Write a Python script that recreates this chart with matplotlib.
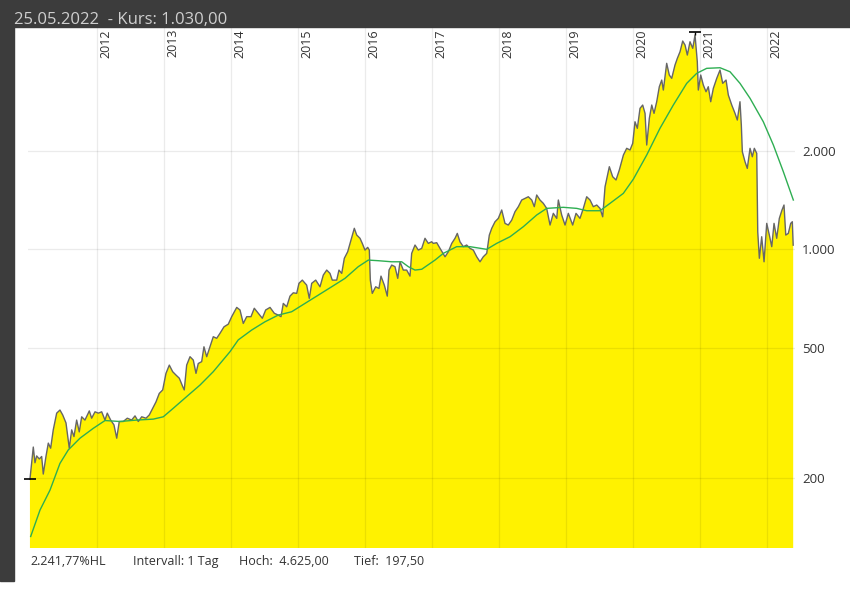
import matplotlib
matplotlib.use('Agg')
import matplotlib.pyplot as plt
import matplotlib.transforms as mtransforms
from matplotlib.patches import Rectangle

plt.rcParams['font.family'] = ['Open Sans', 'DejaVu Sans']

# Tagesschlusskurse (Dezimaljahr, Kurs)
kurs_t = [
    2011.004, 2011.015, 2011.054, 2011.079, 2011.104, 2011.143, 2011.179, 2011.203, 2011.243, 2011.278,
    2011.313, 2011.352, 2011.403, 2011.452, 2011.493, 2011.542, 2011.591, 2011.627, 2011.661, 2011.701,
    2011.740, 2011.776, 2011.825, 2011.890, 2011.925, 2011.975, 2012.024, 2012.075, 2012.124, 2012.158,
    2012.209, 2012.258, 2012.299, 2012.337, 2012.397, 2012.457, 2012.522, 2012.572, 2012.621, 2012.672,
    2012.736, 2012.785, 2012.836, 2012.885, 2012.934, 2012.985, 2013.034, 2013.084, 2013.134, 2013.184,
    2013.233, 2013.284, 2013.307, 2013.343, 2013.393, 2013.442, 2013.482, 2013.516, 2013.567, 2013.601,
    2013.642, 2013.691, 2013.740, 2013.791, 2013.840, 2013.900, 2013.964, 2014.015, 2014.090, 2014.139,
    2014.188, 2014.239, 2014.303, 2014.352, 2014.412, 2014.472, 2014.522, 2014.587, 2014.651, 2014.710,
    2014.751, 2014.785, 2014.836, 2014.885, 2014.934, 2014.985, 2015.019, 2015.069, 2015.134, 2015.173,
    2015.209, 2015.269, 2015.333, 2015.382, 2015.433, 2015.482, 2015.516, 2015.582, 2015.616, 2015.657,
    2015.696, 2015.746, 2015.796, 2015.845, 2015.881, 2015.930, 2015.964, 2016.004, 2016.045, 2016.069,
    2016.084, 2016.113, 2016.164, 2016.213, 2016.243, 2016.293, 2016.337, 2016.363, 2016.403, 2016.452,
    2016.493, 2016.527, 2016.576, 2016.627, 2016.676, 2016.701, 2016.751, 2016.800, 2016.851, 2016.900,
    2016.949, 2017.000, 2017.024, 2017.075, 2017.124, 2017.199, 2017.248, 2017.299, 2017.348, 2017.382,
    2017.422, 2017.472, 2017.522, 2017.572, 2017.621, 2017.672, 2017.721, 2017.770, 2017.821, 2017.860,
    2017.896, 2017.945, 2017.994, 2018.045, 2018.094, 2018.143, 2018.194, 2018.243, 2018.293, 2018.343,
    2018.393, 2018.442, 2018.493, 2018.531, 2018.567, 2018.616, 2018.666, 2018.716, 2018.766, 2018.815,
    2018.866, 2018.890, 2018.940, 2018.990, 2019.039, 2019.104, 2019.154, 2019.213, 2019.263, 2019.313,
    2019.363, 2019.412, 2019.463, 2019.512, 2019.552, 2019.587, 2019.651, 2019.701, 2019.751, 2019.800,
    2019.861, 2019.910, 2019.960, 2020.000, 2020.034, 2020.069, 2020.109, 2020.149, 2020.184, 2020.209,
    2020.248, 2020.284, 2020.318, 2020.358, 2020.397, 2020.433, 2020.457, 2020.507, 2020.546, 2020.582,
    2020.631, 2020.666, 2020.706, 2020.746, 2020.781, 2020.815, 2020.855, 2020.896, 2020.930, 2020.964,
    2020.979, 2021.015, 2021.054, 2021.094, 2021.128, 2021.164, 2021.203, 2021.254, 2021.303, 2021.343,
    2021.393, 2021.427, 2021.478, 2021.527, 2021.561, 2021.601, 2021.621, 2021.636, 2021.676, 2021.710,
    2021.751, 2021.785, 2021.815, 2021.851, 2021.866, 2021.890, 2021.925, 2021.960, 2022.000, 2022.039,
    2022.075, 2022.109, 2022.149, 2022.188, 2022.228, 2022.258, 2022.284, 2022.322, 2022.358, 2022.382,
    2022.395,
]
kurs = [
    197.5, 208, 248, 222, 233, 228, 232, 205, 232, 255,
    246, 280, 315, 322, 311, 294, 246, 280, 267, 300,
    276, 307, 300, 320, 304, 318, 315, 318, 300, 315,
    300, 290, 264, 297, 297, 304, 300, 309, 297, 307,
    304, 311, 326, 341, 362, 371, 417, 442, 422, 412,
    403, 380, 371, 442, 469, 458, 417, 447, 453, 503,
    469, 503, 540, 534, 553, 579, 590, 622, 664, 652,
    593, 622, 622, 660, 637, 615, 652, 664, 637, 629,
    622, 683, 667, 719, 736, 733, 787, 805, 777, 708,
    787, 805, 768, 834, 864, 844, 805, 805, 864, 844,
    939, 983, 1068, 1160, 1106, 1081, 1043, 995, 1014, 995,
    805, 733, 768, 759, 828, 777, 719, 864, 895, 885,
    815, 916, 864, 864, 828, 972, 1031, 995, 1007, 1081,
    1043, 1055, 1043, 1048, 1007, 949, 983, 1043, 1081, 1119,
    1055, 1019, 1031, 1007, 995, 949, 916, 949, 972, 1106,
    1160, 1215, 1244, 1320, 1201, 1187, 1229, 1304, 1351, 1416,
    1433, 1449, 1416, 1351, 1467, 1416, 1383, 1335, 1187, 1289,
    1244, 1416, 1274, 1187, 1289, 1187, 1289, 1244, 1335, 1449,
    1416, 1351, 1367, 1335, 1258, 1555, 1791, 1669, 1631, 1750,
    1945, 2039, 2015, 2112, 2459, 2348, 2703, 2767, 2609, 2087,
    2519, 2767, 2609, 2832, 3148, 3300, 3075, 3713, 3419, 3340,
    3668, 3846, 4029, 4345, 4224, 3936, 4323, 4127, 4533, 3755,
    3075, 3419, 3185, 3039, 3148, 2832, 3112, 3340, 3541, 3224,
    3300, 2969, 2767, 2609, 2489, 2832, 2403, 1991, 1855, 1770,
    2039, 1921, 2039, 1968, 1132, 939, 1093, 916, 1201, 1106,
    1019, 1201, 1081, 1244, 1320, 1367, 1106, 1119, 1201, 1215,
    1030,
]

# gleitender Durchschnitt (gruene Linie)
ma_t = [
    2011.015, 2011.154, 2011.303, 2011.452, 2011.576, 2011.751, 2011.949, 2012.124, 2012.348, 2012.597,
    2012.845, 2012.994, 2013.143, 2013.343, 2013.542, 2013.740, 2013.990, 2014.113, 2014.313, 2014.512,
    2014.710, 2014.910, 2015.109, 2015.307, 2015.507, 2015.706, 2015.904, 2016.054, 2016.203, 2016.403,
    2016.552, 2016.651, 2016.751, 2016.851, 2017.049, 2017.173, 2017.373, 2017.572, 2017.821, 2017.970,
    2018.169, 2018.367, 2018.567, 2018.716, 2018.964, 2019.164, 2019.313, 2019.512, 2019.661, 2019.860,
    2020.009, 2020.209, 2020.407, 2020.606, 2020.806, 2020.955, 2021.104, 2021.303, 2021.452, 2021.601,
    2021.751, 2021.949, 2022.099, 2022.248, 2022.397,
]
ma = [
    132, 159, 183, 221, 243, 264, 283, 299, 297, 300,
    302, 307, 326, 354, 384, 422, 486, 528, 566, 600,
    629, 644, 683, 724, 768, 815, 885, 927, 923, 916,
    916, 885, 864, 869, 927, 972, 1019, 1019, 1000, 1043,
    1093, 1173, 1274, 1335, 1345, 1335, 1313, 1313, 1383, 1484,
    1640, 1945, 2348, 2767, 3224, 3460, 3584, 3599, 3499, 3224,
    2901, 2459, 2087, 1729, 1416,
]

jahre = list(range(2012, 2023))
y_ticks = [200, 500, 1000, 2000]
y_labels = ['200', '500', '1.000', '2.000']
datum = '25.05.2022'
hoch = 4625.0
tief = 197.5
intervall = '1 Tag'


def de(v, nd=2):
    s = f'{v:,.{nd}f}'
    return s.replace(',', 'X').replace('.', ',').replace('X', '.')


W, H = 850, 589
fig = plt.figure(figsize=(W / 100, H / 100), dpi=100)
ax = fig.add_axes([28 / W, 41 / H, (795 - 28) / W, (548 - 27) / H])
ax.set_yscale('log')
ax.set_xlim(2010.975, 2022.422)
ax.set_ylim(121.7, 4797)

ax.fill_between(kurs_t, kurs, 1, color='#fff200', lw=0, zorder=1)
for j in jahre:
    ax.axvline(j, color='black', alpha=0.08, lw=0.9, zorder=2)
for v in y_ticks:
    ax.axhline(v, color='black', alpha=0.08, lw=0.9, zorder=2)
ax.plot(kurs_t, kurs, color='#666666', lw=1.0, zorder=3)
ax.plot(ma_t, ma, color='#2eae52', lw=1.0, zorder=4)

# Hoch / Tief Markierungen
i_max = kurs.index(max(kurs))
ax.plot([kurs_t[0]], [tief], marker='_', ms=8, mew=1.2, color='black', clip_on=False, zorder=5)
ax.plot([kurs_t[i_max]], [hoch], marker='_', ms=8, mew=1.2, color='black', clip_on=False, zorder=5)
ax.vlines(kurs_t[i_max], kurs[i_max], hoch, color='black', lw=1.0, zorder=5)

for s in ax.spines.values():
    s.set_visible(False)
ax.set_xticks([])
ax.yaxis.tick_right()
ax.set_yticks(y_ticks)
ax.set_yticklabels(y_labels)
ax.yaxis.set_minor_locator(matplotlib.ticker.NullLocator())
ax.tick_params(axis='y', length=0, pad=5, labelsize=9.5, labelcolor='#333333')

trans = mtransforms.blended_transform_factory(ax.transData, ax.transAxes)
trans = mtransforms.offset_copy(trans, fig=fig, x=3, y=-2, units='dots')
for j in jahre:
    ax.text(j, 1, str(j), transform=trans, rotation=90, ha='left', va='top',
            fontsize=9, color='#333333')

# Rahmen
fig.patches.append(Rectangle((0, 1 - 27 / H), 1, 27 / H, transform=fig.transFigure,
                             color='#3c3c3c', zorder=0))
fig.patches.append(Rectangle((0, 1 - 581 / H), 14 / W, 581 / H, transform=fig.transFigure,
                             color='#3c3c3c', zorder=0))

fig.text(14 / W, 1 - 24 / H, f'{datum}  - Kurs: {de(kurs[-1])}', fontsize=12,
         color='#cfcfcf', va='baseline', ha='left')

hl = (hoch / tief - 1) * 100
yb = 1 - 565 / H
fig.text(30 / W, yb, f'{de(hl)}%HL', fontsize=9, color='#333333', va='baseline')
fig.text(133 / W, yb, f'Intervall: {intervall}', fontsize=9, color='#333333', va='baseline')
fig.text(239 / W, yb, f'Hoch:  {de(hoch)}', fontsize=9, color='#333333', va='baseline')
fig.text(354 / W, yb, f'Tief:  {de(tief)}', fontsize=9, color='#333333', va='baseline')

fig.savefig('out.png', dpi=100)
